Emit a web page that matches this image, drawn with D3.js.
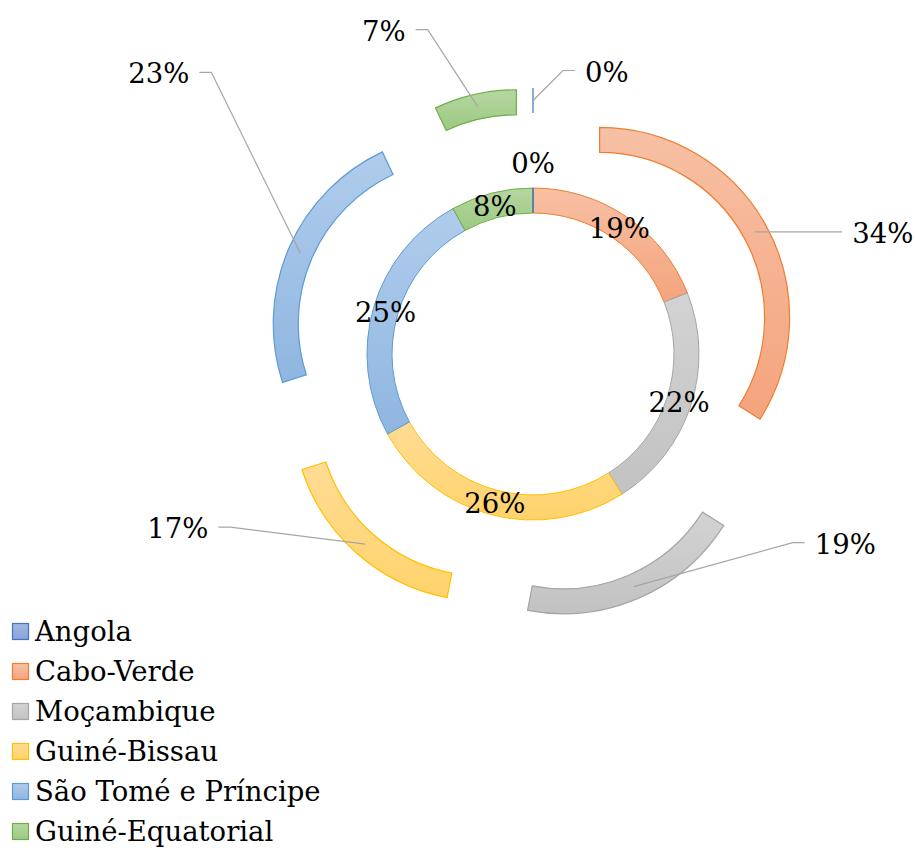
<!DOCTYPE html>
<html><head><meta charset="utf-8">
<script src="https://cdn.jsdelivr.net/npm/d3@7"></script>
<style>html,body{margin:0;padding:0;background:#fff;} svg{display:block;}</style>
</head><body>
<div id="chart"></div>
<script>
// ---------- data ----------
const categories = ["Angola", "Cabo-Verde", "Moçambique", "Guiné-Bissau", "São Tomé e Príncipe", "Guiné-Equatorial"];
const innerValues = [0, 19, 22, 26, 25, 8];
const outerValues = [0, 34, 19, 17, 23, 7];
const innerLabels = ["0%", "19%", "22%", "26%", "25%", "8%"];
const outerLabels = ["0%", "34%", "19%", "17%", "23%", "7%"];

// ---------- style ----------
const strokeColors = ["#4472C4", "#ED7D31", "#A5A5A5", "#FFC000", "#5B9BD5", "#70AD47"];
const lightColors  = ["#A3B8E2", "#F7C0A4", "#D3D3D3", "#FFDC95", "#B0CCEB", "#B5D7A1"];
const darkColors   = ["#8AA4D8", "#F4A47D", "#C2C2C2", "#FFD36B", "#8FB6E1", "#9CC982"];

// ---------- layout ----------
const W = 915, H = 854, cx = 533, cy = 354;
const innerR0 = 141, innerR1 = 166, outerR0 = 165, outerR1 = 190, explode = 76;
const fontSize = 27.5;
const fontFamily = "'DejaVu Serif', 'Liberation Serif', serif";
// elbow offsets of outer leader lines relative to their anchor on the slice
const outerLabelOffsets = [[30, -30], [75, 0], [159, -44], [-135, -17], [-89, -181], [-50, -77]];

const svg = d3.select("#chart").append("svg")
  .attr("width", W).attr("height", H)
  .style("background", "#fff");

const defs = svg.append("defs");
categories.forEach((c, i) => {
  const g = defs.append("linearGradient").attr("id", "grad" + i)
    .attr("x1", 0).attr("y1", 0).attr("x2", 0).attr("y2", 1);
  g.append("stop").attr("offset", "0%").attr("stop-color", lightColors[i]);
  g.append("stop").attr("offset", "100%").attr("stop-color", darkColors[i]);
});

const pie = d3.pie().sort(null).value(d => d);
const innerArcs = pie(innerValues);
const outerArcs = pie(outerValues);

const innerArc = d3.arc().innerRadius(innerR0).outerRadius(innerR1);
const outerArc = d3.arc().innerRadius(outerR0).outerRadius(outerR1);

const root = svg.append("g").attr("transform", `translate(${cx},${cy})`);

const polar = (a, r) => [Math.sin(a) * r, -Math.cos(a) * r];
const mid = d => (d.startAngle + d.endAngle) / 2;

// draw order: non-zero first, zero slices last so their line shows
const order = d3.range(categories.length).sort((a, b) => (innerValues[a] === 0) - (innerValues[b] === 0));

// inner ring
root.append("g").selectAll("path")
  .data(order.map(i => innerArcs[i]))
  .join("path")
  .attr("d", innerArc)
  .attr("fill", d => `url(#grad${d.index})`)
  .attr("stroke", d => strokeColors[d.index])
  .attr("stroke-width", 1);

// outer ring (exploded)
const outerOrder = d3.range(categories.length).sort((a, b) => (outerValues[a] === 0) - (outerValues[b] === 0));
root.append("g").selectAll("path")
  .data(outerOrder.map(i => outerArcs[i]))
  .join("path")
  .attr("transform", d => { const p = polar(mid(d), explode); return `translate(${p[0]},${p[1]})`; })
  .attr("d", outerArc)
  .attr("fill", d => `url(#grad${d.index})`)
  .attr("stroke", d => strokeColors[d.index])
  .attr("stroke-width", 1.2);

// inner labels
root.append("g").selectAll("text")
  .data(innerArcs)
  .join("text")
  .attr("x", d => polar(mid(d), d.value === 0 ? innerR1 + 25 : (innerR0 + innerR1) / 2)[0])
  .attr("y", d => polar(mid(d), d.value === 0 ? innerR1 + 25 : (innerR0 + innerR1) / 2)[1] + fontSize * 0.38)
  .attr("text-anchor", "middle")
  .attr("font-family", fontFamily)
  .attr("font-size", fontSize)
  .attr("fill", "#000")
  .text(d => innerLabels[d.index]);

// outer labels with leader lines
const lg = root.append("g");
outerArcs.forEach(d => {
  const i = d.index;
  const off = polar(mid(d), explode);
  const a = polar(mid(d), (outerR0 + outerR1) / 2);
  const anchor = [off[0] + a[0], off[1] + a[1]];
  const o = outerLabelOffsets[i];
  const elbow = [anchor[0] + o[0], anchor[1] + o[1]];
  const dir = o[0] >= 0 ? 1 : -1;
  const tail = [elbow[0] + dir * 12, elbow[1]];
  lg.append("path")
    .attr("d", d3.line()([anchor, elbow, tail]))
    .attr("fill", "none")
    .attr("stroke", "#A6A6A6")
    .attr("stroke-width", 1.2);
  lg.append("text")
    .attr("x", tail[0] + dir * 10)
    .attr("y", tail[1] + fontSize * 0.4)
    .attr("text-anchor", dir > 0 ? "start" : "end")
    .attr("font-family", fontFamily)
    .attr("font-size", fontSize)
    .attr("fill", "#000")
    .text(outerLabels[i]);
});

// legend
const legend = svg.append("g").attr("transform", "translate(12,623)");
const rows = legend.selectAll("g").data(categories).join("g")
  .attr("transform", (d, i) => `translate(0,${i * 40})`);
rows.append("rect")
  .attr("x", 0.5).attr("y", 0.5).attr("width", 16).attr("height", 16)
  .attr("fill", (d, i) => `url(#grad${i})`)
  .attr("stroke", (d, i) => strokeColors[i])
  .attr("stroke-width", 1.2);
rows.append("text")
  .attr("x", 23).attr("y", 18)
  .attr("font-family", fontFamily)
  .attr("font-size", fontSize)
  .attr("fill", "#000")
  .text(d => d);
</script>
</body></html>
